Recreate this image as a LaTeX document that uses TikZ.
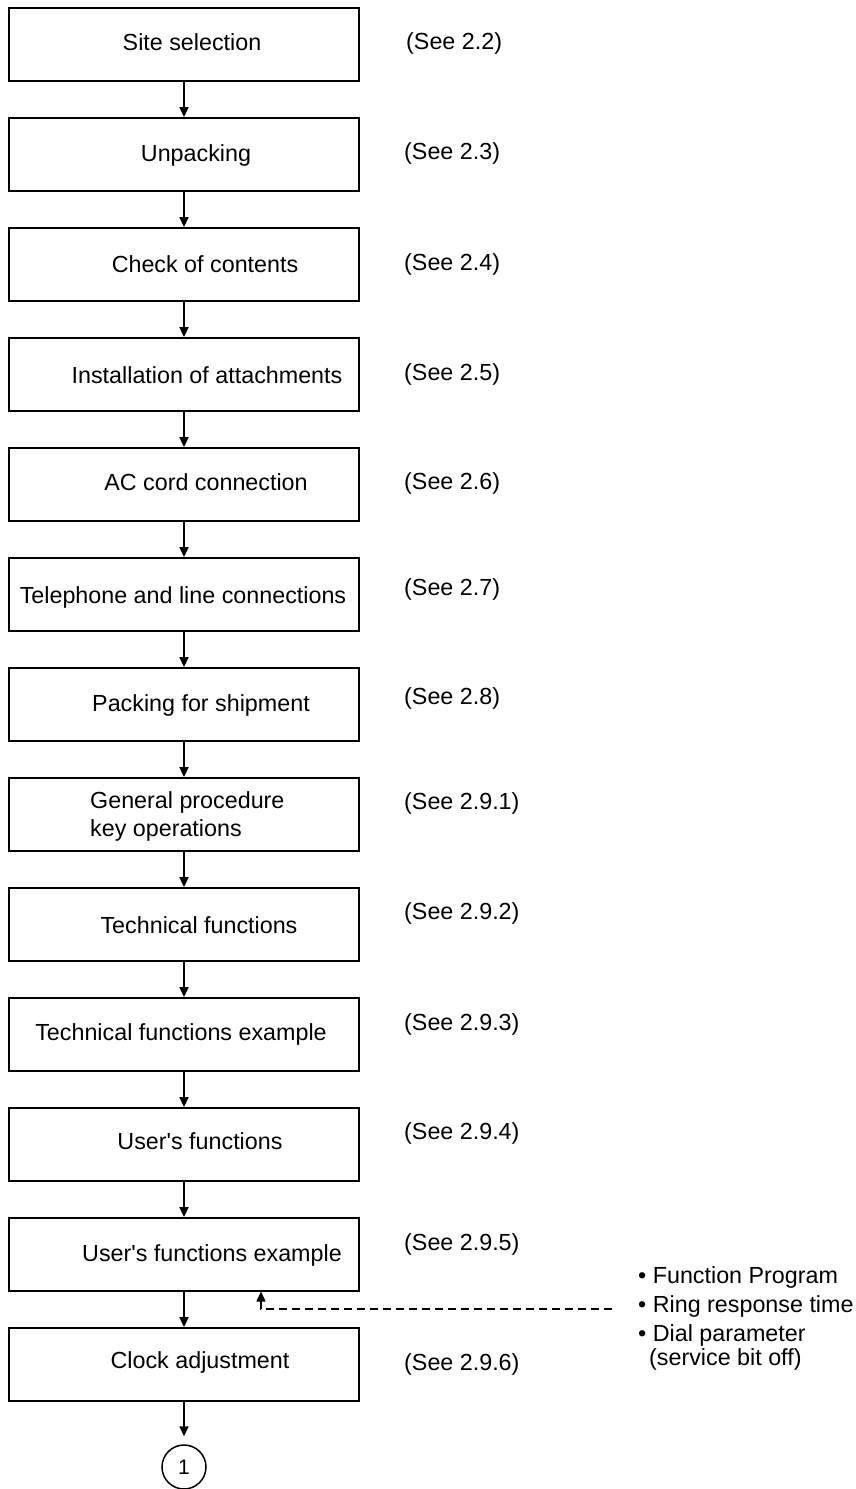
\documentclass[tikz,border=0pt]{standalone}
\usepackage{fontspec}
\setmainfont{Liberation Sans}
\usetikzlibrary{arrows.meta}

\tikzset{
  stepbox/.style={draw, line width=1.8pt, minimum width=350pt, minimum height=73pt, inner sep=0pt},
  steptext/.style={font=\fontsize{23.3}{28}\selectfont, inner sep=0pt, anchor=base},
  seeref/.style={font=\fontsize{23.3}{28}\selectfont, inner sep=0pt, anchor=base west},
  flow/.style={line width=1.8pt, -{Triangle[length=10pt,width=9pt]}},
}

\begin{document}
\begin{tikzpicture}[x=1pt, y=-1pt]
            \useasboundingbox (0,0) rectangle (856,1489);

            % Step boxes
            \node[stepbox] (b1) at (184,44.5) {};
            \node[stepbox] (b2) at (184,154.5) {};
            \node[stepbox] (b3) at (184,264.5) {};
            \node[stepbox] (b4) at (184,374.5) {};
            \node[stepbox] (b5) at (184,484.5) {};
            \node[stepbox] (b6) at (184,594.5) {};
            \node[stepbox] (b7) at (184,704.5) {};
            \node[stepbox] (b8) at (184,814.5) {};
            \node[stepbox] (b9) at (184,924.5) {};
            \node[stepbox] (b10) at (184,1034.5) {};
            \node[stepbox] (b11) at (184,1144.5) {};
            \node[stepbox] (b12) at (184,1254.5) {};
            \node[stepbox] (b13) at (184,1364.5) {};

            % Step texts
            \node[steptext] (t1) at (192,50) {Site selection};
            \node[steptext] (t2) at (196,161) {Unpacking};
            \node[steptext] (t3) at (205,272) {Check of contents};
            \node[steptext] (t4) at (207,383) {Installation of attachments};
            \node[steptext] (t5) at (206,490) {AC cord connection};
            \node[steptext] (t6) at (183,603) {Telephone and line connections};
            \node[steptext] (t7) at (201,711) {Packing for shipment};
            \node[steptext, anchor=west, align=left] (t8) at (90,816) {General procedure\\key operations};
            \node[steptext] (t9) at (199,933) {Technical functions};
            \node[steptext] (t10) at (181,1040) {Technical functions example};
            \node[steptext] (t11) at (200,1149) {User\textquotesingle s functions};
            \node[steptext] (t12) at (212,1261) {User\textquotesingle s functions example};
            \node[steptext] (t13) at (200,1368) {Clock adjustment};

            % Section references
            \node[seeref] (s1) at (406,49) {(See 2.2)};
            \node[seeref] (s2) at (404,159) {(See 2.3)};
            \node[seeref] (s3) at (404,270) {(See 2.4)};
            \node[seeref] (s4) at (404,380) {(See 2.5)};
            \node[seeref] (s5) at (404,489) {(See 2.6)};
            \node[seeref] (s6) at (404,595) {(See 2.7)};
            \node[seeref] (s7) at (404,704) {(See 2.8)};
            \node[seeref] (s8) at (404,809) {(See 2.9.1)};
            \node[seeref] (s9) at (404,919) {(See 2.9.2)};
            \node[seeref] (s10) at (404,1030) {(See 2.9.3)};
            \node[seeref] (s11) at (404,1139) {(See 2.9.4)};
            \node[seeref] (s12) at (404,1250) {(See 2.9.5)};
            \node[seeref] (s13) at (404,1370) {(See 2.9.6)};

            % Connector
            \node[draw, circle, line width=1.5pt, minimum size=44pt, inner sep=0pt,
                  font=\fontsize{21}{24}\selectfont] (c1) at (184,1467) {1};

            % Arrows
            \draw[flow] (b1) -- (b2);
            \draw[flow] (b2) -- (b3);
            \draw[flow] (b3) -- (b4);
            \draw[flow] (b4) -- (b5);
            \draw[flow] (b5) -- (b6);
            \draw[flow] (b6) -- (b7);
            \draw[flow] (b7) -- (b8);
            \draw[flow] (b8) -- (b9);
            \draw[flow] (b9) -- (b10);
            \draw[flow] (b10) -- (b11);
            \draw[flow] (b11) -- (b12);
            \draw[flow] (b12) -- (b13);
            \draw[flow, shorten >=8pt] (b13) -- (c1);

            % Parameters set in user's functions
            \node[font=\fontsize{23.3}{29}\selectfont, inner sep=0pt, anchor=north west, align=left] (params) at (638,1266)
                {• Function Program\\
                 • Ring response time\\
                 • Dial parameter\\[-5pt]
                 \hspace*{11pt}(service bit off)};
            \coordinate (dashstart) at (612,1309);
            \coordinate (hook) at (261,1291.5);
            \draw[line width=1.5pt, dash pattern=on 8pt off 5pt, -{Triangle[length=10pt,width=9pt]}] (dashstart) -| (hook);
        \end{tikzpicture}
\end{document}
